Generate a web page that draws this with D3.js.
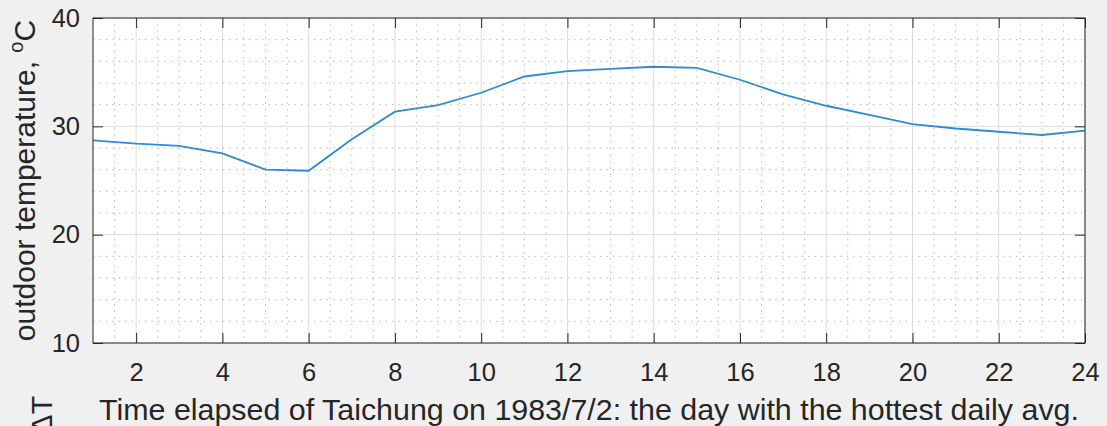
<!DOCTYPE html>
<html>
<head>
<meta charset="utf-8">
<script src="https://cdn.jsdelivr.net/npm/d3@7"></script>
<style>
  body { margin: 0; background: #f0f0f0; }
  svg { display: block; font-family: "Liberation Sans", Arial, sans-serif; }
  .tick text { fill: #262626; }
</style>
</head>
<body>
<svg id="chart" width="1107" height="426"></svg>
<script>
var hours = [1,2,3,4,5,6,7,8,9,10,11,12,13,14,15,16,17,18,19,20,21,22,23,24];
var temps = [28.7,28.4,28.2,27.5,26.0,25.9,28.8,31.35,31.95,33.1,34.6,35.1,35.3,35.5,35.4,34.3,32.95,31.9,31.05,30.2,29.8,29.5,29.2,29.6];
var xTicks = [2,4,6,8,10,12,14,16,18,20,22,24];
var yTicks = [10,20,30,40];
var xMinor = d3.range(1.5, 24, 0.5).filter(function(d){ return d % 2 !== 0; });
var yMinor = d3.range(12, 40, 2).filter(function(d){ return d % 10 !== 0; });

var mLeft = 93, mTop = 18, mRight = 1085, mBottom = 343;

var xScale = d3.scaleLinear().domain([1,24]).range([mLeft,mRight]);
var yScale = d3.scaleLinear().domain([10,40]).range([mBottom,mTop]);

var svg = d3.select("#chart");

// axes background
svg.append("rect")
    .attr("x", mLeft).attr("y", mTop)
    .attr("width", mRight-mLeft).attr("height", mBottom-mTop)
    .attr("fill", "white");

// minor grid
var grid = svg.append("g");
grid.selectAll(".xm").data(xMinor).enter().append("line")
    .attr("x1", function(d){ return xScale(d); })
    .attr("x2", function(d){ return xScale(d); })
    .attr("y1", mTop).attr("y2", mBottom)
    .attr("stroke", "#b0b0b0").attr("stroke-width", 1)
    .attr("stroke-dasharray", "1.3,5.2");
grid.selectAll(".ym").data(yMinor).enter().append("line")
    .attr("y1", function(d){ return yScale(d); })
    .attr("y2", function(d){ return yScale(d); })
    .attr("x1", mLeft).attr("x2", mRight)
    .attr("stroke", "#b0b0b0").attr("stroke-width", 1)
    .attr("stroke-dasharray", "1.3,5.2");

// major grid
grid.selectAll(".xg").data(xTicks).enter().append("line")
    .attr("x1", function(d){ return xScale(d); })
    .attr("x2", function(d){ return xScale(d); })
    .attr("y1", mTop).attr("y2", mBottom)
    .attr("stroke", "#dcdcdc").attr("stroke-width", 1);
grid.selectAll(".yg").data(yTicks).enter().append("line")
    .attr("y1", function(d){ return yScale(d); })
    .attr("y2", function(d){ return yScale(d); })
    .attr("x1", mLeft).attr("x2", mRight)
    .attr("stroke", "#dcdcdc").attr("stroke-width", 1);

// line
var line = d3.line()
    .x(function(d, i){ return xScale(hours[i]); })
    .y(function(d){ return yScale(d); });
svg.append("path")
    .datum(temps)
    .attr("d", line)
    .attr("fill", "none")
    .attr("stroke", "#2d8cd4")
    .attr("stroke-width", 1.8);

// axes
var xAxis = d3.axisBottom(xScale).tickValues(xTicks).tickSize(-10).tickPadding(20).tickSizeOuter(0);
var xAxisTop = d3.axisTop(xScale).tickValues(xTicks).tickSize(-10).tickFormat("").tickSizeOuter(0);
var yAxis = d3.axisLeft(yScale).tickValues(yTicks).tickSize(-10).tickPadding(13).tickSizeOuter(0);
var yAxisRight = d3.axisRight(yScale).tickValues(yTicks).tickSize(-10).tickFormat("").tickSizeOuter(0);

var axes = svg.append("g");
axes.append("g").attr("transform", "translate(0," + mBottom + ")").call(xAxis);
axes.append("g").attr("transform", "translate(0," + mTop + ")").call(xAxisTop);
axes.append("g").attr("transform", "translate(" + mLeft + ",0)").call(yAxis);
axes.append("g").attr("transform", "translate(" + mRight + ",0)").call(yAxisRight);
axes.selectAll(".domain").remove();
axes.selectAll("g").attr("font-family", "Liberation Sans, Arial, sans-serif").attr("font-size", 25.5);
axes.selectAll(".tick line").attr("stroke", "#262626");

// box
svg.append("rect")
    .attr("x", mLeft).attr("y", mTop)
    .attr("width", mRight-mLeft).attr("height", mBottom-mTop)
    .attr("fill", "none").attr("stroke", "#262626").attr("stroke-width", 1);

// labels
var labels = svg.append("g").attr("fill", "#262626");
labels.append("text")
    .text("Time elapsed of Taichung on 1983/7/2: the day with the hottest daily avg.")
    .attr("x", (mLeft+mRight)/2).attr("y", 420)
    .attr("text-anchor", "middle")
    .attr("font-size", 30.4);

var yl = labels.append("text")
    .attr("transform", "translate(35," + ((mTop+mBottom)/2) + ") rotate(-90)")
    .attr("text-anchor", "middle")
    .attr("font-size", 30);
yl.append("tspan").text("outdoor temperature, ");
yl.append("tspan").text("o").attr("font-size", 20).attr("dy", -12);
yl.append("tspan").text("C").attr("dy", 12);

// y label of the subplot below, cut off by the figure edge
labels.append("text")
    .text("\u0394T")
    .attr("transform", "translate(52,396) rotate(-90)")
    .attr("text-anchor", "end")
    .attr("font-size", 30);
</script>
</body>
</html>
